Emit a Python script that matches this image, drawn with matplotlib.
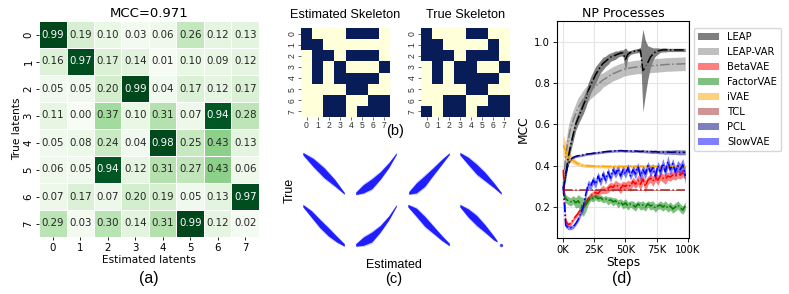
import numpy as np
import matplotlib
matplotlib.use("Agg")
import matplotlib.pyplot as plt
from matplotlib.ticker import FuncFormatter

W, H = 789, 294

# ---- (a) MCC heatmap ----
mcc_vals = [
    [0.99, 0.19, 0.10, 0.03, 0.06, 0.26, 0.12, 0.13],
    [0.16, 0.97, 0.17, 0.14, 0.01, 0.10, 0.09, 0.12],
    [0.05, 0.05, 0.20, 0.99, 0.04, 0.17, 0.12, 0.17],
    [0.11, 0.00, 0.37, 0.10, 0.31, 0.07, 0.94, 0.28],
    [0.05, 0.08, 0.24, 0.04, 0.98, 0.25, 0.43, 0.13],
    [0.06, 0.05, 0.94, 0.12, 0.31, 0.27, 0.43, 0.06],
    [0.07, 0.17, 0.07, 0.20, 0.19, 0.05, 0.13, 0.97],
    [0.29, 0.03, 0.30, 0.14, 0.31, 0.99, 0.12, 0.02],
]
latent_labels = [str(i) for i in range(8)]

# ---- (b) skeletons ----
est_skeleton = [
    [1, 0, 0, 0, 1, 1, 1, 0],
    [1, 1, 0, 0, 0, 0, 0, 0],
    [0, 1, 1, 0, 1, 1, 1, 0],
    [0, 1, 0, 1, 0, 0, 0, 1],
    [0, 1, 0, 1, 1, 1, 1, 0],
    [0, 0, 0, 0, 1, 1, 0, 0],
    [0, 0, 1, 1, 0, 0, 1, 1],
    [0, 0, 1, 1, 0, 1, 1, 1],
]
true_skeleton = [
    [1, 0, 0, 0, 1, 1, 0, 0],
    [1, 1, 0, 0, 0, 0, 1, 0],
    [1, 1, 1, 0, 1, 1, 1, 0],
    [0, 1, 0, 1, 1, 0, 0, 1],
    [0, 1, 0, 1, 1, 1, 1, 0],
    [0, 0, 0, 0, 1, 1, 0, 0],
    [0, 0, 1, 1, 0, 0, 1, 1],
    [1, 0, 1, 1, 0, 1, 1, 1],
]

# ---- (c) scatter clouds: centre line (x, y) and half thickness ----
cloud_x = [
    [0.0, 0.25, 0.5, 0.75, 0.98],
    [0.02, 0.2, 0.4, 0.6, 0.8, 0.98],
    [0.02, 0.2, 0.4, 0.6, 0.8, 0.98],
    [0.0, 0.2, 0.4, 0.6, 0.8, 0.98],
    [0.0, 0.2, 0.4, 0.6, 0.8, 0.98],
    [0.02, 0.2, 0.4, 0.6, 0.8, 0.98],
    [0.0, 0.2, 0.4, 0.6, 0.8, 0.98],
    [0.0, 0.2, 0.4, 0.6, 0.8, 0.88],
]
cloud_y = [
    [0.98, 0.76, 0.52, 0.28, 0.02],
    [0.02, 0.13, 0.25, 0.45, 0.7, 0.98],
    [0.03, 0.15, 0.32, 0.55, 0.78, 0.98],
    [0.98, 0.8, 0.6, 0.42, 0.22, 0.02],
    [0.98, 0.78, 0.55, 0.35, 0.17, 0.03],
    [0.03, 0.12, 0.22, 0.42, 0.68, 0.98],
    [0.98, 0.82, 0.6, 0.4, 0.2, 0.04],
    [0.98, 0.8, 0.62, 0.42, 0.2, 0.12],
]
cloud_w = [
    [0.03, 0.1, 0.12, 0.08, 0.02],
    [0.03, 0.1, 0.12, 0.09, 0.06, 0.02],
    [0.03, 0.12, 0.13, 0.09, 0.06, 0.02],
    [0.03, 0.09, 0.12, 0.1, 0.06, 0.02],
    [0.03, 0.08, 0.1, 0.1, 0.07, 0.03],
    [0.03, 0.1, 0.12, 0.08, 0.05, 0.02],
    [0.03, 0.1, 0.12, 0.09, 0.06, 0.03],
    [0.03, 0.1, 0.12, 0.09, 0.05, 0.015],
]

# ---- (d) NP processes, steps in thousands ----
steps_k = list(range(0, 100, 2))

leap_mean = [0.29, 0.36, 0.44, 0.50, 0.55, 0.60, 0.63, 0.66, 0.69, 0.72,
             0.76, 0.79, 0.815, 0.84, 0.86, 0.88, 0.895, 0.905, 0.915, 0.925,
             0.93, 0.935, 0.94, 0.945, 0.945, 0.915, 0.94, 0.948, 0.952, 0.955,
             0.957, 0.958, 0.86, 0.875, 0.90, 0.925, 0.94, 0.95, 0.955, 0.958,
             0.96, 0.96, 0.96, 0.96, 0.96, 0.96, 0.96, 0.96, 0.96, 0.96]
leap_std = [0.02, 0.03, 0.03, 0.03, 0.03, 0.03, 0.03, 0.035, 0.04, 0.04,
            0.04, 0.04, 0.04, 0.04, 0.035, 0.03, 0.03, 0.025, 0.025, 0.02,
            0.02, 0.02, 0.015, 0.015, 0.015, 0.055, 0.015, 0.01, 0.01, 0.01,
            0.01, 0.015, 0.2, 0.13, 0.08, 0.05, 0.03, 0.02, 0.015, 0.01,
            0.01, 0.01, 0.008, 0.008, 0.008, 0.008, 0.008, 0.008, 0.008, 0.008]

leapvar_mean = [0.30, 0.45, 0.53, 0.58, 0.62, 0.65, 0.68, 0.70, 0.72, 0.735,
                0.75, 0.765, 0.775, 0.785, 0.795, 0.805, 0.815, 0.822, 0.83, 0.838,
                0.845, 0.85, 0.855, 0.86, 0.865, 0.868, 0.871, 0.873, 0.875, 0.877,
                0.878, 0.879, 0.88, 0.881, 0.882, 0.883, 0.884, 0.885, 0.886, 0.887,
                0.888, 0.889, 0.89, 0.89, 0.891, 0.891, 0.892, 0.892, 0.893, 0.893]
leapvar_std = [0.06, 0.06, 0.06, 0.055, 0.05, 0.05, 0.05, 0.045, 0.045, 0.045,
               0.04, 0.04, 0.04, 0.04, 0.04, 0.04, 0.035, 0.035, 0.035, 0.035,
               0.035, 0.035, 0.035, 0.035, 0.033, 0.033, 0.033, 0.033, 0.033, 0.033,
               0.033, 0.033, 0.033, 0.033, 0.033, 0.033, 0.033, 0.033, 0.033, 0.033,
               0.033, 0.033, 0.033, 0.033, 0.033, 0.033, 0.033, 0.033, 0.033, 0.033]

beta_mean = [0.38, 0.13, 0.115, 0.12, 0.14, 0.155, 0.17, 0.19, 0.205, 0.22,
             0.24, 0.255, 0.26, 0.27, 0.265, 0.28, 0.285, 0.28, 0.29, 0.30,
             0.295, 0.31, 0.30, 0.29, 0.305, 0.30, 0.31, 0.30, 0.325, 0.31,
             0.33, 0.31, 0.335, 0.30, 0.33, 0.34, 0.325, 0.345, 0.33, 0.35,
             0.34, 0.335, 0.35, 0.345, 0.355, 0.35, 0.36, 0.355, 0.365, 0.355]
beta_std = [0.02, 0.015, 0.01, 0.01, 0.01, 0.01, 0.012, 0.012, 0.012, 0.015,
            0.015, 0.015, 0.015, 0.02, 0.015, 0.015, 0.02, 0.015, 0.02, 0.02,
            0.02, 0.02, 0.02, 0.025, 0.02, 0.02, 0.02, 0.025, 0.02, 0.02,
            0.025, 0.03, 0.02, 0.03, 0.02, 0.02, 0.025, 0.02, 0.025, 0.02,
            0.02, 0.025, 0.02, 0.02, 0.02, 0.02, 0.02, 0.02, 0.02, 0.02]

factor_mean = [0.27, 0.24, 0.23, 0.225, 0.235, 0.22, 0.23, 0.21, 0.20, 0.21,
               0.23, 0.245, 0.24, 0.25, 0.24, 0.245, 0.235, 0.24, 0.23, 0.235,
               0.225, 0.23, 0.215, 0.225, 0.21, 0.22, 0.205, 0.215, 0.21, 0.20,
               0.215, 0.205, 0.21, 0.20, 0.215, 0.205, 0.21, 0.195, 0.205, 0.21,
               0.20, 0.21, 0.195, 0.205, 0.19, 0.20, 0.21, 0.195, 0.185, 0.205]
factor_std = [0.02, 0.02, 0.02, 0.02, 0.02, 0.025, 0.03, 0.04, 0.045, 0.035,
              0.02, 0.015, 0.015, 0.015, 0.015, 0.015, 0.015, 0.015, 0.02, 0.015,
              0.02, 0.015, 0.02, 0.015, 0.02, 0.02, 0.02, 0.015, 0.02, 0.02,
              0.015, 0.02, 0.02, 0.02, 0.015, 0.02, 0.02, 0.02, 0.015, 0.02,
              0.02, 0.02, 0.02, 0.02, 0.02, 0.02, 0.02, 0.02, 0.02, 0.02]

ivae_mean = [0.50, 0.47, 0.45, 0.435, 0.425, 0.415, 0.41, 0.405, 0.402, 0.40,
             0.40, 0.399, 0.398, 0.398, 0.397, 0.397, 0.397, 0.396, 0.396, 0.396,
             0.396, 0.396, 0.396, 0.396, 0.396, 0.396, 0.397, 0.397, 0.397, 0.397,
             0.397, 0.397, 0.397, 0.397, 0.397, 0.397, 0.397, 0.397, 0.397, 0.397,
             0.397, 0.397, 0.397, 0.397, 0.396, 0.396, 0.396, 0.396, 0.395, 0.395]
ivae_std = [0.05, 0.04, 0.03, 0.02, 0.015, 0.012, 0.01, 0.008, 0.008, 0.008,
            0.008, 0.008, 0.008, 0.008, 0.008, 0.008, 0.008, 0.008, 0.008, 0.008,
            0.008, 0.008, 0.008, 0.008, 0.008, 0.008, 0.008, 0.008, 0.008, 0.008,
            0.008, 0.008, 0.008, 0.008, 0.008, 0.008, 0.008, 0.008, 0.008, 0.008,
            0.008, 0.008, 0.008, 0.008, 0.008, 0.008, 0.008, 0.008, 0.008, 0.008]

tcl_mean = [0.28] * 50
tcl_std = [0.003] * 50

pcl_mean = [0.28, 0.36, 0.41, 0.43, 0.44, 0.445, 0.448, 0.45, 0.452, 0.455,
            0.457, 0.458, 0.46, 0.462, 0.463, 0.465, 0.466, 0.468, 0.469, 0.47,
            0.471, 0.472, 0.472, 0.473, 0.472, 0.471, 0.472, 0.471, 0.47, 0.471,
            0.47, 0.469, 0.47, 0.469, 0.468, 0.468, 0.467, 0.468, 0.466, 0.466,
            0.466, 0.465, 0.466, 0.465, 0.465, 0.466, 0.465, 0.464, 0.465, 0.464]
pcl_std = [0.01, 0.01, 0.008, 0.006, 0.006, 0.006, 0.006, 0.006, 0.006, 0.006,
           0.006, 0.006, 0.006, 0.006, 0.006, 0.006, 0.006, 0.006, 0.006, 0.006,
           0.006, 0.006, 0.006, 0.006, 0.006, 0.006, 0.006, 0.006, 0.006, 0.006,
           0.006, 0.006, 0.007, 0.007, 0.007, 0.008, 0.008, 0.008, 0.008, 0.009,
           0.009, 0.01, 0.01, 0.01, 0.011, 0.011, 0.012, 0.012, 0.012, 0.012]

slow_mean = [0.30, 0.11, 0.10, 0.10, 0.105, 0.12, 0.14, 0.17, 0.20, 0.26,
             0.31, 0.30, 0.33, 0.31, 0.35, 0.32, 0.36, 0.33, 0.37, 0.34,
             0.38, 0.36, 0.385, 0.35, 0.38, 0.36, 0.39, 0.35, 0.38, 0.36,
             0.395, 0.35, 0.38, 0.36, 0.40, 0.37, 0.39, 0.35, 0.40, 0.37,
             0.41, 0.37, 0.42, 0.38, 0.41, 0.37, 0.40, 0.38, 0.405, 0.35]
slow_std = [0.01, 0.01, 0.01, 0.01, 0.01, 0.01, 0.012, 0.015, 0.02, 0.02,
            0.02, 0.02, 0.02, 0.02, 0.02, 0.02, 0.02, 0.02, 0.02, 0.02,
            0.02, 0.02, 0.02, 0.02, 0.02, 0.02, 0.02, 0.02, 0.02, 0.025,
            0.02, 0.025, 0.02, 0.025, 0.02, 0.025, 0.02, 0.025, 0.02, 0.025,
            0.025, 0.025, 0.03, 0.025, 0.025, 0.025, 0.025, 0.03, 0.03, 0.04]

method_names = ["LEAP", "LEAP-VAR", "BetaVAE", "FactorVAE", "iVAE", "TCL", "PCL", "SlowVAE"]
method_means = [leap_mean, leapvar_mean, beta_mean, factor_mean, ivae_mean, tcl_mean, pcl_mean, slow_mean]
method_stds = [leap_std, leapvar_std, beta_std, factor_std, ivae_std, tcl_std, pcl_std, slow_std]
method_colors = ["black", "gray", "red", "green", "orange", "brown", "navy", "blue"]

ARIAL = "Liberation Sans"


def box(l, t, w, h):
    return [l / W, 1 - (t + h) / H, w / W, h / H]


fig = plt.figure(figsize=(W / 100, H / 100), dpi=100)

# (a) heatmap
ax = fig.add_axes(box(39, 21, 220, 216))
mat = np.array(mcc_vals)
ax.pcolormesh(mat, cmap="Greens", vmin=0, vmax=1, edgecolors="white", linewidth=0.6)
ax.set_xlim(0, 8)
ax.set_ylim(8, 0)
for i in range(8):
    for j in range(8):
        v = mat[i, j]
        ax.text(j + 0.5, i + 0.5, f"{v:.2f}", ha="center", va="center", fontsize=7.4,
                color="white" if v > 0.6 else "#262626")
ax.set_xticks(np.arange(8) + 0.5)
ax.set_xticklabels(latent_labels, fontsize=7.4)
ax.set_yticks(np.arange(8) + 0.5)
ax.set_yticklabels(latent_labels, fontsize=7.4, rotation=90, va="center")
ax.tick_params(length=2.5, width=0.6, pad=1.5)
for s in ax.spines.values():
    s.set_visible(False)
ax.set_title("MCC=0.971", fontsize=9.5, pad=3)
ax.set_xlabel("Estimated latents", fontsize=7.6, labelpad=2)
ax.set_ylabel("True latents", fontsize=7.6, labelpad=1)
fig.text(149 / W, 1 - 279 / H, "(a)", ha="center", va="center", fontsize=11.5, family=ARIAL)

# (b) skeletons
for grid, left, title in [(est_skeleton, 301, "Estimated Skeleton"),
                          (true_skeleton, 421, "True Skeleton")]:
    axs = fig.add_axes(box(left, 28, 89, 89))
    axs.pcolormesh(np.array(grid), cmap="YlGnBu", vmin=0, vmax=1)
    axs.set_xlim(0, 8)
    axs.set_ylim(8, 0)
    axs.set_xticks(np.arange(8) + 0.5)
    axs.set_xticklabels(latent_labels, fontsize=6.2, family=ARIAL)
    axs.set_yticks(np.arange(8) + 0.5)
    axs.set_yticklabels(latent_labels, fontsize=6.2, rotation=90, va="center", family=ARIAL)
    axs.tick_params(length=2, width=0.5, pad=1, colors="#333333")
    for s in axs.spines.values():
        s.set_visible(False)
    fig.text((left + 44.5) / W, 1 - 15 / H, title, ha="center", va="center",
             fontsize=9.2, family=ARIAL)
fig.text(395 / W, 1 - 131 / H, "(b)", ha="center", va="center", fontsize=10.5, family=ARIAL)

# (c) scatter clouds
col_left = [302, 354, 407, 459]
row_top = [152, 204]
for k in range(8):
    r, c = divmod(k, 4)
    axc = fig.add_axes(box(col_left[c], row_top[r], 44, 43))
    xs = np.array(cloud_x[k])
    ys = np.array(cloud_y[k])
    ws = np.array(cloud_w[k])
    axc.fill_between(xs, ys - ws * 1.3, ys + ws * 1.3, color="blue", alpha=0.2, lw=0)
    axc.fill_between(xs, ys - ws, ys + ws, color="blue", alpha=0.85, lw=0)
    if k == 7:
        axc.plot([0.98], [0.02], "o", color="blue", ms=1.5, alpha=0.6)
    axc.set_xlim(-0.02, 1.02)
    axc.set_ylim(-0.02, 1.02)
    axc.axis("off")
fig.text(290 / W, 1 - 190 / H, "True", ha="center", va="center", rotation=90,
         fontsize=9, family=ARIAL)
fig.text(394 / W, 1 - 265 / H, "Estimated", ha="center", va="center", fontsize=9, family=ARIAL)
fig.text(394 / W, 1 - 279 / H, "(c)", ha="center", va="center", fontsize=10.5, family=ARIAL)

# (d) NP processes
axd = fig.add_axes(box(557, 21, 132, 217))
steps = np.array(steps_k) * 1000
handles = []
for name, m, s, c in zip(method_names, method_means, method_stds, method_colors):
    m = np.array(m)
    s = np.array(s)
    h = axd.fill_between(steps, m - s, m + s, color=c, alpha=0.5, lw=0, label=name)
    axd.plot(steps, m, "-.", color=c, lw=1.1)
    handles.append(h)
axd.set_xlim(-5000, 101000)
axd.set_ylim(0.05, 1.1)
axd.set_xticks([0, 25000, 50000, 75000, 100000])
axd.xaxis.set_major_formatter(FuncFormatter(lambda v, p: f"{int(v / 1000)}K"))
axd.set_yticks([0.2, 0.4, 0.6, 0.8, 1.0])
axd.tick_params(labelsize=7.2, length=3, width=0.6, pad=2)
axd.grid(True, color="#e6e6e6", lw=0.8)
axd.set_axisbelow(True)
axd.set_title("NP Processes", fontsize=9, pad=3)
axd.set_xlabel("Steps", fontsize=8.8, labelpad=1)
axd.set_ylabel("MCC", fontsize=8.8, labelpad=3)
fig.legend(handles=handles, loc="upper left", bbox_to_anchor=(694 / W, 1 - 28 / H),
           bbox_transform=fig.transFigure, fontsize=7.2, borderaxespad=0,
           handlelength=2.1, labelspacing=0.5, borderpad=0.4)
fig.text(622 / W, 1 - 278 / H, "(d)", ha="center", va="center", fontsize=11.5, family=ARIAL)

fig.savefig("out.png", dpi=100)
